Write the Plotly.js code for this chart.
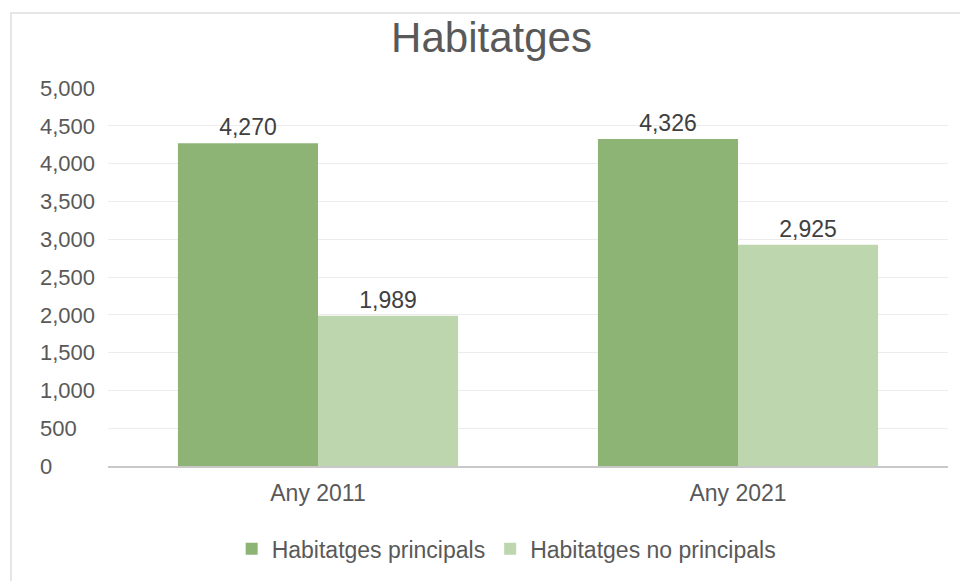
<!DOCTYPE html>
<html>
<head>
<meta charset="utf-8">
<script src="https://cdn.plot.ly/plotly-3.0.1.min.js"></script>
<style>
html,body{margin:0;padding:0;background:#fff;}
#frame{position:absolute;left:10px;top:12px;width:960px;height:600px;border-left:2px solid #e6e6e6;border-top:2px solid #e6e6e6;}
#chart{position:absolute;left:0;top:0;width:960px;height:581px;}
</style>
</head>
<body>
<div id="frame"></div>
<div id="chart"></div>
<script>
const categories = ["Any 2011", "Any 2021"];
const principals = [4270, 4326];
const noPrincipals = [1989, 2925];
const seriesNames = ["Habitatges principals", "Habitatges no principals"];
const yTicks = [0, 500, 1000, 1500, 2000, 2500, 3000, 3500, 4000, 4500, 5000];

const fmt = v => v.toLocaleString('en-US');
// left-align tick labels by right-padding with figure / punctuation spaces
const padLeftAlign = v => {
  const s = fmt(v), full = fmt(5000);
  const digitsMissing = full.replace(/,/g, '').length - s.replace(/,/g, '').length;
  const commasMissing = (full.match(/,/g) || []).length - (s.match(/,/g) || []).length;
  return s + '\u2008'.repeat(commasMissing) + '\u2007'.repeat(digitsMissing);
};
const FONT = "Liberation Sans, Arial, sans-serif";
const labelFont = {family: FONT, size: 23, color: "#404040"};

const traces = [
  {type: "bar", name: seriesNames[0], x: categories, y: principals,
   marker: {color: "#8eb475"}, text: principals.map(fmt), textposition: "outside",
   textfont: labelFont, cliponaxis: false, hoverinfo: "none"},
  {type: "bar", name: seriesNames[1], x: categories, y: noPrincipals,
   marker: {color: "#bdd6ae"}, text: noPrincipals.map(fmt), textposition: "outside",
   textfont: labelFont, cliponaxis: false, hoverinfo: "none"}
];

const layout = {
  width: 960, height: 581,
  margin: {l: 108, r: 12, t: 88, b: 114},
  paper_bgcolor: "rgba(0,0,0,0)", plot_bgcolor: "rgba(0,0,0,0)",
  font: {family: FONT, color: "#595959", size: 22},
  title: {text: "Habitatges", x: 0.512, xanchor: "center", y: 0.935, yanchor: "middle",
          font: {family: FONT, size: 42, color: "#595959"}},
  barmode: "group", bargap: 0.333, bargroupgap: 0,
  xaxis: {type: "category", showgrid: false, ticks: "", showline: true, linecolor: "#c8c8c8", linewidth: 2,
          tickfont: {size: 23, color: "#595959"}, ticklabelstandoff: 5},
  yaxis: {range: [0, 5000], tickvals: yTicks, ticktext: yTicks.map(padLeftAlign), showgrid: true, gridcolor: "#ececec",
          gridwidth: 1, zeroline: false, showline: false, ticks: "",
          tickfont: {size: 22, color: "#595959"}, ticklabelstandoff: 12},
  showlegend: true,
  legend: {orientation: "h", x: 0.474, xanchor: "center", y: -0.216, yanchor: "middle",
           font: {size: 23, color: "#595959"}, itemwidth: 30, traceorder: "normal"}
};

Plotly.newPlot("chart", traces, layout, {displayModeBar: false, staticPlot: true});
</script>
</body>
</html>
